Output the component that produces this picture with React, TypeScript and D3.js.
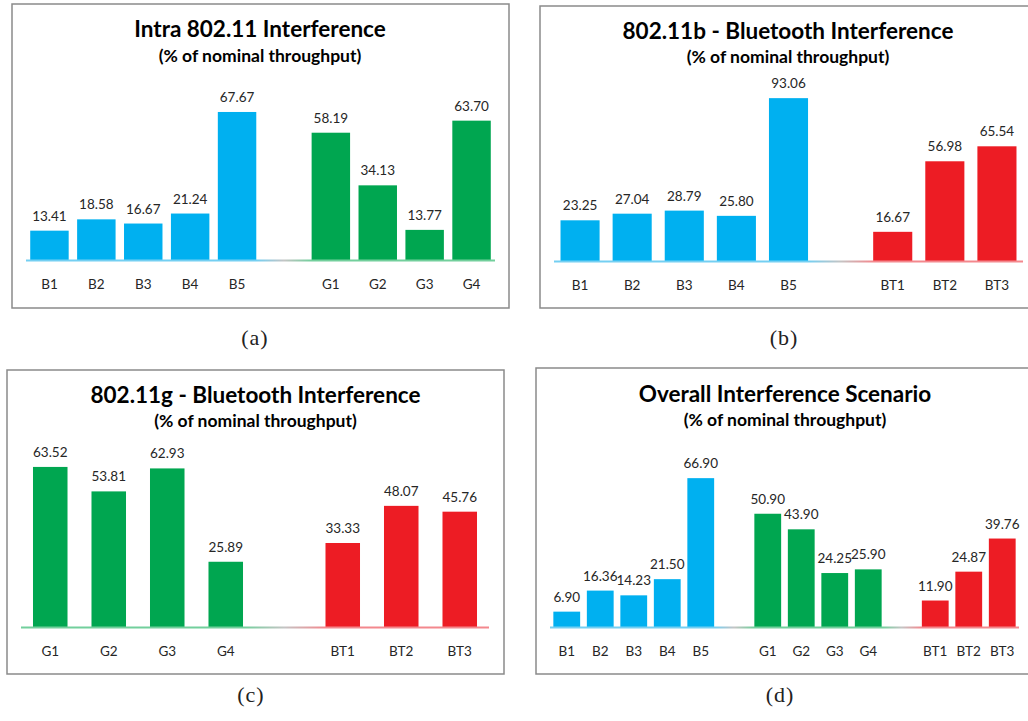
import React from "react";
import * as d3 from "d3";

// Category names per technology group
const bCats = ["B1", "B2", "B3", "B4", "B5"];
const gCats = ["G1", "G2", "G3", "G4"];
const btCats = ["BT1", "BT2", "BT3"];

// Throughput values (% of nominal) per scenario
const intraB = [13.41, 18.58, 16.67, 21.24, 67.67];
const intraG = [58.19, 34.13, 13.77, 63.7];
const bBtB = [23.25, 27.04, 28.79, 25.8, 93.06];
const bBtBT = [16.67, 56.98, 65.54];
const gBtG = [63.52, 53.81, 62.93, 25.89];
const gBtBT = [33.33, 48.07, 45.76];
const overallB = [6.9, 16.36, 14.23, 21.5, 66.9];
const overallG = [50.9, 43.9, 24.25, 25.9];
const overallBT = [11.9, 24.87, 39.76];

const titles = [
  "Intra 802.11 Interference",
  "802.11b - Bluetooth Interference",
  "802.11g - Bluetooth Interference",
  "Overall Interference Scenario",
];
const subtitle = "(% of nominal throughput)";
const captions = ["(a)", "(b)", "(c)", "(d)"];

const BLUE = "#00b0f0";
const GREEN = "#00a650";
const RED = "#ed1c24";
const LIGHT: Record<string, string> = {
  [BLUE]: "#74cff2",
  [GREEN]: "#72cf9c",
  [RED]: "#f3888d",
};

type Group = { cats: string[]; vals: number[]; color: string };

const panelGroups: Group[][] = [
  [
    { cats: bCats, vals: intraB, color: BLUE },
    { cats: gCats, vals: intraG, color: GREEN },
  ],
  [
    { cats: bCats, vals: bBtB, color: BLUE },
    { cats: btCats, vals: bBtBT, color: RED },
  ],
  [
    { cats: gCats, vals: gBtG, color: GREEN },
    { cats: btCats, vals: gBtBT, color: RED },
  ],
  [
    { cats: bCats, vals: overallB, color: BLUE },
    { cats: gCats, vals: overallG, color: GREEN },
    { cats: btCats, vals: overallBT, color: RED },
  ],
];

// Layout of each panel
const layouts = [
  { box: [12, 4, 509, 308], axisY: 260, x: [26, 495], yMax: 80, top: 85, pad: 0.18, tx: 260, tY: 37, sY: 62, cx: 255, cY: 345 },
  { box: [540, 6, 1032, 308], axisY: 261, x: [554, 1023], yMax: 100, top: 86, pad: 0.25, tx: 788, tY: 39, sY: 63, cx: 784, cY: 345 },
  { box: [7, 370, 504, 674], axisY: 627, x: [21, 489], yMax: 70, top: 450.6, pad: 0.41, tx: 255.5, tY: 403, sY: 427, cx: 251, cY: 702 },
  { box: [536, 368, 1032, 674], axisY: 627, x: [550, 1019], yMax: 80, top: 449, pad: 0.2, tx: 785, tY: 402, sY: 426, cx: 780, cY: 702 },
];

const FONT = "Lato, 'Open Sans', sans-serif";

function Panel({ idx }: { idx: number }) {
  const groups = panelGroups[idx];
  const L = layouts[idx];
  const domain: string[] = [];
  groups.forEach((g, i) => {
    if (i > 0) domain.push(`gap${i}`);
    g.cats.forEach((c) => domain.push(`${i}-${c}`));
  });
  const x = d3.scaleBand<string>().domain(domain).range(L.x as [number, number]).paddingInner(L.pad).paddingOuter(L.pad / 2);
  const y = d3.scaleLinear().domain([0, L.yMax]).range([L.axisY, L.top]);
  const [bx0, by0, bx1, by1] = L.box;
  const gradId = `axisGrad${idx}`;
  const span = L.x[1] - L.x[0];
  const stops: { off: number; color: string }[] = [];
  groups.forEach((g, i) => {
    const first = x(`${i}-${g.cats[0]}`)!;
    const last = x(`${i}-${g.cats[g.cats.length - 1]}`)! + x.bandwidth();
    if (i > 0) {
      const gap = x(`gap${i}`)! + x.bandwidth() / 2;
      stops.push({ off: (gap - L.x[0]) / span, color: "#c4c4c4" });
    }
    stops.push({ off: (first - L.x[0]) / span, color: LIGHT[g.color] });
    stops.push({ off: (last - L.x[0]) / span, color: LIGHT[g.color] });
  });
  return (
    <g>
      <defs>
        <linearGradient id={gradId} gradientUnits="userSpaceOnUse" x1={L.x[0]} x2={L.x[1]} y1={0} y2={0}>
          {stops.map((s, i) => (
            <stop key={i} offset={Math.max(0, Math.min(1, s.off))} stopColor={s.color} />
          ))}
        </linearGradient>
      </defs>
      <rect x={bx0} y={by0} width={bx1 - bx0} height={by1 - by0} fill="#fff" stroke="#8a8a8a" strokeWidth={1.5} />
      <text x={L.tx} y={L.tY} textAnchor="middle" fontFamily={FONT} fontWeight={700} fontSize={22.5} fill="#000">
        {titles[idx]}
      </text>
      <text x={L.tx} y={L.sY} textAnchor="middle" fontFamily={FONT} fontWeight={700} fontSize={17.5} fill="#000">
        {subtitle}
      </text>
      {groups.map((g, gi) =>
        g.cats.map((c, ci) => {
          const key = `${gi}-${c}`;
          const bx = x(key)!;
          const v = g.vals[ci];
          return (
            <g key={key}>
              <rect x={bx} y={y(v)} width={x.bandwidth()} height={L.axisY - y(v)} fill={g.color} />
              <text x={bx + x.bandwidth() / 2} y={y(v) - 10} textAnchor="middle" fontFamily={FONT} fontSize={13.5} fill="#262626">
                {v.toFixed(2)}
              </text>
              <text x={bx + x.bandwidth() / 2} y={L.axisY + 29} textAnchor="middle" fontFamily={FONT} fontSize={13.5} fill="#262626">
                {c}
              </text>
            </g>
          );
        })
      )}
      <line x1={L.x[0]} x2={L.x[1]} y1={L.axisY + 0.5} y2={L.axisY + 0.5} stroke={`url(#${gradId})`} strokeWidth={2} />
      <text x={L.cx} y={L.cY} textAnchor="middle" fontFamily="'Liberation Serif', serif" fontSize={22} letterSpacing={1} fill="#222">
        {captions[idx]}
      </text>
    </g>
  );
}

export default function App() {
  return (
    <div style={{ position: "absolute", left: 0, top: 0 }}>
      <svg width={1028} height={721} style={{ display: "block", background: "#fff" }}>
        <rect width={1028} height={721} fill="#fff" />
        {[0, 1, 2, 3].map((i) => (
          <Panel key={i} idx={i} />
        ))}
      </svg>
    </div>
  );
}
